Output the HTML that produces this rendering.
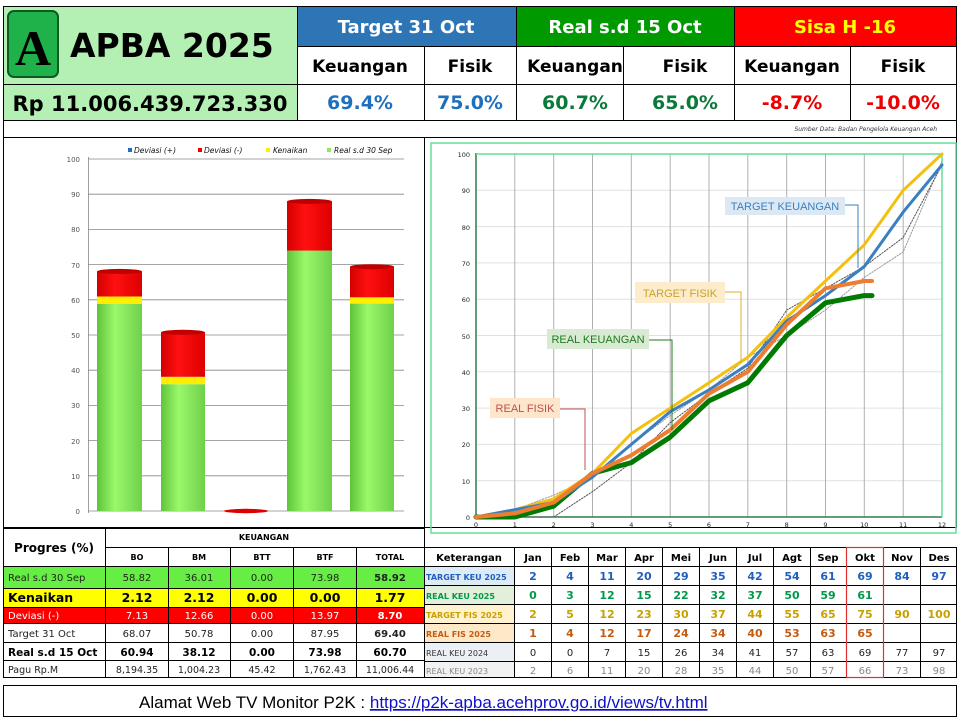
<!DOCTYPE html>
<html><head><meta charset="utf-8"><style>
body{margin:0;background:#fff;}
svg{display:block;font-family:"DejaVu Sans","Liberation Sans",sans-serif;}
</style></head><body>
<svg width="960" height="720" viewBox="0 0 960 720" xmlns="http://www.w3.org/2000/svg">
<rect width="960" height="720" fill="#fff"/>
<!-- HEADER -->
<rect x="3" y="6" width="294" height="114" fill="#b4f0b4"/>
<rect x="297" y="6" width="219" height="40" fill="#2e75b6"/>
<rect x="516" y="6" width="218" height="40" fill="#009a00"/>
<rect x="734" y="6" width="223" height="40" fill="#ff0000"/>
<g stroke="#000" stroke-width="1" fill="none">
<rect x="3.5" y="6.5" width="953" height="131"/>
<line x1="3" y1="84.5" x2="957" y2="84.5"/>
<line x1="3" y1="120.5" x2="957" y2="120.5"/>
<line x1="297" y1="46.5" x2="957" y2="46.5"/>
<line x1="297.5" y1="6" x2="297.5" y2="120"/>
<line x1="424.5" y1="46" x2="424.5" y2="120"/>
<line x1="516.5" y1="6" x2="516.5" y2="120"/>
<line x1="623.5" y1="46" x2="623.5" y2="120"/>
<line x1="734.5" y1="6" x2="734.5" y2="120"/>
<line x1="850.5" y1="46" x2="850.5" y2="120"/>
</g>
<rect x="8" y="11" width="50" height="66" rx="6" fill="#1fb14a" stroke="#0d5a22" stroke-width="2"/>
<text x="33" y="65" text-anchor="middle" font-family="Liberation Serif,serif" font-size="50" font-weight="bold" fill="#000">A</text>
<text x="70" y="57" font-size="33" font-weight="bold" fill="#000">APBA 2025</text>
<text x="150" y="111" text-anchor="middle" font-size="21" font-weight="bold" fill="#000">Rp 11.006.439.723.330</text>
<g font-size="18" font-weight="bold" text-anchor="middle">
<text x="406" y="33" fill="#fff">Target 31 Oct</text>
<text x="625" y="33" fill="#fff">Real s.d 15 Oct</text>
<text x="845" y="33" fill="#ffff00">Sisa H -16</text>
</g>
<g font-size="17" font-weight="bold" text-anchor="middle" fill="#000">
<text x="360" y="72">Keuangan</text><text x="470" y="72">Fisik</text>
<text x="575" y="72">Keuangan</text><text x="685" y="72">Fisik</text>
<text x="792" y="72">Keuangan</text><text x="903" y="72">Fisik</text>
</g>
<g font-size="19" font-weight="bold" text-anchor="middle">
<text x="360" y="109" fill="#1f6fbf">69.4%</text><text x="470" y="109" fill="#1f6fbf">75.0%</text>
<text x="575" y="109" fill="#0a7a3a">60.7%</text><text x="685" y="109" fill="#0a7a3a">65.0%</text>
<text x="792" y="109" fill="#ee0000">-8.7%</text><text x="903" y="109" fill="#ee0000">-10.0%</text>
</g>
<text x="937" y="131" text-anchor="end" font-size="6" font-style="italic" fill="#333">Sumber Data: Badan Pengelola Keuangan Aceh</text>

<!-- PANELS -->
<g stroke="#000" fill="none">
<rect x="3.5" y="137.5" width="421" height="390"/>
<rect x="424.5" y="137.5" width="532" height="390"/>
</g>

<!-- BAR CHART -->
<g stroke="#888" stroke-width="0.8">
<line x1="88" y1="511" x2="404" y2="511"/><line x1="88" y1="475.8" x2="404" y2="475.8"/>
<line x1="88" y1="440.6" x2="404" y2="440.6"/><line x1="88" y1="405.4" x2="404" y2="405.4"/>
<line x1="88" y1="370.2" x2="404" y2="370.2"/><line x1="88" y1="335" x2="404" y2="335"/>
<line x1="88" y1="299.8" x2="404" y2="299.8"/><line x1="88" y1="264.6" x2="404" y2="264.6"/>
<line x1="88" y1="229.4" x2="404" y2="229.4"/><line x1="88" y1="194.2" x2="404" y2="194.2"/>
<line x1="88" y1="159" x2="404" y2="159"/><line x1="88.5" y1="157" x2="88.5" y2="513"/>
</g>
<g font-size="7" fill="#555" text-anchor="end">
<text x="80" y="514">0</text><text x="80" y="479">10</text><text x="80" y="444">20</text><text x="80" y="408">30</text>
<text x="80" y="373">40</text><text x="80" y="338">50</text><text x="80" y="303">60</text><text x="80" y="268">70</text>
<text x="80" y="232">80</text><text x="80" y="197">90</text><text x="80" y="162">100</text>
</g>
<defs>
<linearGradient id="gg" x1="0" x2="1"><stop offset="0" stop-color="#5fc43a"/><stop offset="0.4" stop-color="#9af86a"/><stop offset="1" stop-color="#6fd04a"/></linearGradient>
<linearGradient id="rg" x1="0" x2="1"><stop offset="0" stop-color="#d40000"/><stop offset="0.4" stop-color="#ff1010"/><stop offset="1" stop-color="#dd0000"/></linearGradient>
</defs>
<!-- BO -->
<rect x="97" y="304" width="45" height="207" fill="url(#gg)"/>
<rect x="97" y="296.5" width="45" height="7.5" fill="#ffee00"/>
<rect x="97" y="271.4" width="45" height="25.1" fill="url(#rg)"/>
<ellipse cx="119.5" cy="271.4" rx="22.5" ry="2.5" fill="#c00000"/>
<!-- BM -->
<rect x="161" y="384.2" width="44" height="126.8" fill="url(#gg)"/>
<rect x="161" y="376.8" width="44" height="7.4" fill="#ffee00"/>
<rect x="161" y="332.3" width="44" height="44.5" fill="url(#rg)"/>
<ellipse cx="183" cy="332.3" rx="22" ry="2.5" fill="#c00000"/>
<!-- BTT -->
<ellipse cx="246" cy="511" rx="22" ry="2.2" fill="#dd0000"/>
<!-- BTF -->
<rect x="287" y="250.6" width="45" height="260.4" fill="url(#gg)"/>
<rect x="287" y="201.4" width="45" height="49.2" fill="url(#rg)"/>
<ellipse cx="309.5" cy="201.4" rx="22.5" ry="2.5" fill="#c00000"/>
<!-- TOTAL -->
<rect x="350" y="303.6" width="44" height="207.4" fill="url(#gg)"/>
<rect x="350" y="297.3" width="44" height="6.3" fill="#ffee00"/>
<rect x="350" y="266.7" width="44" height="30.6" fill="url(#rg)"/>
<ellipse cx="372" cy="266.7" rx="22" ry="2.5" fill="#c00000"/>
<!-- legend -->
<g font-size="7.5" font-style="italic" fill="#111">
<rect x="128" y="148" width="4" height="4" fill="#1f6fbf"/><text x="134" y="153">Deviasi (+)</text>
<rect x="198" y="148" width="4" height="4" fill="#ee0000"/><text x="204" y="153">Deviasi  (-)</text>
<rect x="266" y="148" width="4" height="4" fill="#ffee00"/><text x="273" y="153">Kenaikan</text>
<rect x="327" y="148" width="4" height="4" fill="#8fe860"/><text x="334" y="153">Real s.d 30 Sep</text>
</g>

<!-- LINE CHART -->
<rect x="431" y="143" width="525" height="390" fill="none" stroke="#66dd99" stroke-width="1.5"/>
<g stroke="#e0e0e0" stroke-width="1">
<line x1="476" y1="480.7" x2="942" y2="480.7"/><line x1="476" y1="444.4" x2="942" y2="444.4"/>
<line x1="476" y1="408.1" x2="942" y2="408.1"/><line x1="476" y1="371.8" x2="942" y2="371.8"/>
<line x1="476" y1="335.5" x2="942" y2="335.5"/><line x1="476" y1="299.2" x2="942" y2="299.2"/>
<line x1="476" y1="262.9" x2="942" y2="262.9"/><line x1="476" y1="226.6" x2="942" y2="226.6"/>
<line x1="476" y1="190.3" x2="942" y2="190.3"/><line x1="476" y1="154" x2="942" y2="154"/>
</g>
<g stroke="#b0b0b0" stroke-width="1">
<line x1="514.8" y1="154" x2="514.8" y2="517"/><line x1="553.7" y1="154" x2="553.7" y2="517"/>
<line x1="592.5" y1="154" x2="592.5" y2="517"/><line x1="631.3" y1="154" x2="631.3" y2="517"/>
<line x1="670.2" y1="154" x2="670.2" y2="517"/><line x1="709" y1="154" x2="709" y2="517"/>
<line x1="747.8" y1="154" x2="747.8" y2="517"/><line x1="786.7" y1="154" x2="786.7" y2="517"/>
<line x1="825.5" y1="154" x2="825.5" y2="517"/><line x1="864.3" y1="154" x2="864.3" y2="517"/>
<line x1="903.2" y1="154" x2="903.2" y2="517"/>
</g>
<g stroke="#2e7d4a" stroke-width="1.5">
<line x1="476" y1="153" x2="476" y2="517"/><line x1="476" y1="517" x2="942" y2="517"/>
<line x1="942" y1="153" x2="942" y2="517" stroke="#66dd99"/>
<line x1="476" y1="154" x2="942" y2="154" stroke="#66dd99"/>
</g>
<g font-size="6.5" fill="#222" text-anchor="end">
<text x="470" y="520">0</text><text x="470" y="484">10</text><text x="470" y="447">20</text><text x="470" y="411">30</text>
<text x="470" y="375">40</text><text x="470" y="339">50</text><text x="470" y="302">60</text><text x="470" y="266">70</text>
<text x="470" y="230">80</text><text x="470" y="193">90</text><text x="470" y="157">100</text>
</g>
<g font-size="6.5" fill="#222" text-anchor="middle">
<text x="476" y="527">0</text><text x="514.8" y="527">1</text><text x="553.7" y="527">2</text><text x="592.5" y="527">3</text>
<text x="631.3" y="527">4</text><text x="670.2" y="527">5</text><text x="709" y="527">6</text><text x="747.8" y="527">7</text>
<text x="786.7" y="527">8</text><text x="825.5" y="527">9</text><text x="864.3" y="527">10</text><text x="903.2" y="527">11</text><text x="942" y="527">12</text>
</g>
<g fill="none" stroke-linejoin="round" stroke-linecap="round">
<polyline stroke="#999" stroke-width="1" stroke-dasharray="1.5,1.5" points="476,517 514.8,509.7 553.7,495.2 592.5,477.1 631.3,444.4 670.2,415.4 709,389.9 747.8,357.3 786.7,335.5 825.5,310.1 864.3,277.4 903.2,252 942,161.3"/>
<polyline stroke="#555" stroke-width="1" stroke-dasharray="1.5,1.5" points="476,517 514.8,517 553.7,517 592.5,491.6 631.3,462.6 670.2,422.6 709,393.6 747.8,368.2 786.7,310.1 825.5,288.3 864.3,266.5 903.2,237.5 942,164.9"/>
<polyline stroke="#007a00" stroke-width="5" points="476,517 514.8,517 553.7,506.1 592.5,473.4 631.3,462.6 670.2,437.1 709,400.8 747.8,382.7 786.7,335.5 825.5,302.8 864.3,295.6 872,295.6"/>
<polyline stroke="#f4c010" stroke-width="3" points="476,517 514.8,509.7 553.7,498.9 592.5,473.4 631.3,433.5 670.2,408.1 709,382.7 747.8,357.3 786.7,317.4 825.5,281 864.3,244.8 903.2,190.3 942,154"/>
<polyline stroke="#3a7fc0" stroke-width="3" points="476,517 514.8,509.7 553.7,502.5 592.5,477.1 631.3,444.4 670.2,411.7 709,389.9 747.8,364.5 786.7,321 825.5,295.6 864.3,266.5 903.2,212.1 942,164.9"/>
<polyline stroke="#ed7d31" stroke-width="4" points="476,517 514.8,513.4 553.7,502.5 592.5,473.4 631.3,455.3 670.2,429.9 709,393.6 747.8,371.8 786.7,324.6 825.5,288.3 864.3,281 872,281"/>
</g>
<!-- callouts -->
<g font-size="11" font-family="Liberation Sans,sans-serif">
<rect x="725" y="197" width="120" height="18" fill="#dce9f5"/>
<text x="785" y="210" text-anchor="middle" fill="#3a7fbf">TARGET KEUANGAN</text>
<polyline points="845,205 858,205 858,268" fill="none" stroke="#3a7fbf"/>
<rect x="635" y="282" width="90" height="21" fill="#fdeccc"/>
<text x="680" y="297" text-anchor="middle" fill="#c9a227">TARGET FISIK</text>
<polyline points="725,292 741,292 741,363" fill="none" stroke="#d9b030"/>
<rect x="547" y="329" width="102" height="20" fill="#d9ead3"/>
<text x="598" y="343" text-anchor="middle" fill="#1e7b1e">REAL KEUANGAN</text>
<polyline points="649,340 672,340 672,430" fill="none" stroke="#1e7b1e"/>
<rect x="490" y="398" width="70" height="20" fill="#fde6cc"/>
<text x="525" y="412" text-anchor="middle" fill="#c0504d">REAL FISIK</text>
<polyline points="560,409 585,409 585,470" fill="none" stroke="#c0504d"/>
</g>

<!-- LEFT TABLE -->
<rect x="3" y="567" width="421" height="21" fill="#66ee44"/>
<rect x="3" y="588" width="421" height="19" fill="#ffff00"/>
<rect x="3" y="607" width="421" height="16" fill="#ff0000"/>
<g stroke="#000" stroke-width="1" fill="none">
<rect x="3.5" y="528.5" width="421" height="149"/>
<line x1="105" y1="547.5" x2="424" y2="547.5"/>
<line x1="3" y1="566.5" x2="424" y2="566.5"/>
<line x1="3" y1="588.5" x2="424" y2="588.5"/>
<line x1="3" y1="607.5" x2="424" y2="607.5"/>
<line x1="3" y1="623.5" x2="424" y2="623.5"/>
<line x1="3" y1="642.5" x2="424" y2="642.5"/>
<line x1="3" y1="660.5" x2="424" y2="660.5"/>
<line x1="105.5" y1="528" x2="105.5" y2="678"/>
<line x1="168.5" y1="547" x2="168.5" y2="678"/>
<line x1="230.5" y1="547" x2="230.5" y2="678"/>
<line x1="293.5" y1="547" x2="293.5" y2="678"/>
<line x1="356.5" y1="547" x2="356.5" y2="678"/>
</g>
<g font-size="8" font-weight="bold" text-anchor="middle" fill="#000">
<text x="264" y="540">KEUANGAN</text>
<text x="137" y="560">BO</text><text x="199" y="560">BM</text><text x="262" y="560">BTT</text><text x="325" y="560">BTF</text><text x="390" y="560">TOTAL</text>
</g>
<text x="54" y="552" text-anchor="middle" font-size="12" font-weight="bold">Progres (%)</text>
<g font-size="10" text-anchor="middle" fill="#222">
<text x="8" y="581" text-anchor="start">Real s.d 30 Sep</text>
<text x="137" y="581">58.82</text><text x="199" y="581">36.01</text><text x="262" y="581">0.00</text><text x="325" y="581">73.98</text><text x="390" y="581" font-weight="bold">58.92</text>
</g>
<g font-size="12.5" font-weight="bold" text-anchor="middle" fill="#000">
<text x="8" y="602" text-anchor="start">Kenaikan</text>
<text x="137" y="602">2.12</text><text x="199" y="602">2.12</text><text x="262" y="602">0.00</text><text x="325" y="602">0.00</text><text x="390" y="602">1.77</text>
</g>
<g font-size="10" text-anchor="middle" fill="#fff">
<text x="8" y="619" text-anchor="start">Deviasi  (-)</text>
<text x="137" y="619">7.13</text><text x="199" y="619">12.66</text><text x="262" y="619">0.00</text><text x="325" y="619">13.97</text><text x="390" y="619" font-weight="bold">8.70</text>
</g>
<g font-size="10" text-anchor="middle" fill="#222">
<text x="8" y="637" text-anchor="start">Target 31 Oct</text>
<text x="137" y="637">68.07</text><text x="199" y="637">50.78</text><text x="262" y="637">0.00</text><text x="325" y="637">87.95</text><text x="390" y="637" font-weight="bold">69.40</text>
</g>
<g font-size="10.5" font-weight="bold" text-anchor="middle" fill="#000">
<text x="8" y="656" text-anchor="start">Real s.d 15 Oct</text>
<text x="137" y="656">60.94</text><text x="199" y="656">38.12</text><text x="262" y="656">0.00</text><text x="325" y="656">73.98</text><text x="390" y="656">60.70</text>
</g>
<g font-size="9.5" text-anchor="middle" fill="#222">
<text x="8" y="673" text-anchor="start">Pagu Rp.M</text>
<text x="137" y="673">8,194.35</text><text x="199" y="673">1,004.23</text><text x="262" y="673">45.42</text><text x="325" y="673">1,762.43</text><text x="390" y="673">11,006.44</text>
</g>

<!-- RIGHT TABLE -->
<rect x="425" y="566" width="89" height="19" fill="#ddebf7"/>
<rect x="425" y="585" width="89" height="19" fill="#e2efda"/>
<rect x="425" y="604" width="89" height="19" fill="#fff2cc"/>
<rect x="425" y="623" width="89" height="19" fill="#fde9c8"/>
<rect x="425" y="642" width="89" height="19" fill="#eceff4"/>
<rect x="425" y="661" width="89" height="17" fill="#f2f2f2"/>
<g stroke="#000" stroke-width="1" fill="none">
<rect x="424.5" y="547.5" width="532" height="130"/>
<line x1="424" y1="566.5" x2="957" y2="566.5"/><line x1="424" y1="585.5" x2="957" y2="585.5"/>
<line x1="424" y1="604.5" x2="957" y2="604.5"/><line x1="424" y1="623.5" x2="957" y2="623.5"/>
<line x1="424" y1="642.5" x2="957" y2="642.5"/><line x1="424" y1="661.5" x2="957" y2="661.5"/>
<line x1="514.5" y1="547" x2="514.5" y2="678"/><line x1="551.5" y1="547" x2="551.5" y2="678"/>
<line x1="588.5" y1="547" x2="588.5" y2="678"/><line x1="625.5" y1="547" x2="625.5" y2="678"/>
<line x1="662.5" y1="547" x2="662.5" y2="678"/><line x1="699.5" y1="547" x2="699.5" y2="678"/>
<line x1="736.5" y1="547" x2="736.5" y2="678"/><line x1="773.5" y1="547" x2="773.5" y2="678"/>
<line x1="810.5" y1="547" x2="810.5" y2="678"/><line x1="846.5" y1="547" x2="846.5" y2="678"/>
<line x1="883.5" y1="547" x2="883.5" y2="678"/><line x1="920.5" y1="547" x2="920.5" y2="678"/>
</g>
<rect x="846.5" y="547.5" width="37" height="130" fill="none" stroke="#e03030" stroke-width="1.2"/>
<g font-size="10" font-weight="bold" text-anchor="middle" fill="#000">
<text x="469" y="561">Keterangan</text>
<text x="533" y="561">Jan</text><text x="570" y="561">Feb</text><text x="607" y="561">Mar</text><text x="644" y="561">Apr</text>
<text x="681" y="561">Mei</text><text x="718" y="561">Jun</text><text x="755" y="561">Jul</text><text x="792" y="561">Agt</text>
<text x="828" y="561">Sep</text><text x="865" y="561">Okt</text><text x="902" y="561">Nov</text><text x="939" y="561">Des</text>
</g>
<g font-size="8" font-weight="bold">
<text x="426" y="580" fill="#1f5fbf">TARGET KEU 2025</text>
<text x="426" y="599" fill="#00994a">REAL KEU 2025</text>
<text x="426" y="618" fill="#c9a000">TARGET FIS 2025</text>
<text x="426" y="637" fill="#c55a11">REAL FIS 2025</text>
<text x="426" y="656" fill="#333" font-weight="normal">REAL KEU 2024</text>
<text x="426" y="674" fill="#888" font-weight="normal">REAL KEU 2023</text>
</g>
<g font-size="11" font-weight="bold" text-anchor="middle" fill="#1f5fbf">
<text x="533" y="580">2</text><text x="570" y="580">4</text><text x="607" y="580">11</text><text x="644" y="580">20</text><text x="681" y="580">29</text><text x="718" y="580">35</text><text x="755" y="580">42</text><text x="792" y="580">54</text><text x="828" y="580">61</text><text x="865" y="580">69</text><text x="902" y="580">84</text><text x="939" y="580">97</text>
</g>
<g font-size="11" font-weight="bold" text-anchor="middle" fill="#00994a">
<text x="533" y="599">0</text><text x="570" y="599">3</text><text x="607" y="599">12</text><text x="644" y="599">15</text><text x="681" y="599">22</text><text x="718" y="599">32</text><text x="755" y="599">37</text><text x="792" y="599">50</text><text x="828" y="599">59</text><text x="865" y="599">61</text>
</g>
<g font-size="11" font-weight="bold" text-anchor="middle" fill="#c9a000">
<text x="533" y="618">2</text><text x="570" y="618">5</text><text x="607" y="618">12</text><text x="644" y="618">23</text><text x="681" y="618">30</text><text x="718" y="618">37</text><text x="755" y="618">44</text><text x="792" y="618">55</text><text x="828" y="618">65</text><text x="865" y="618">75</text><text x="902" y="618">90</text><text x="939" y="618">100</text>
</g>
<g font-size="11" font-weight="bold" text-anchor="middle" fill="#c55a11">
<text x="533" y="637">1</text><text x="570" y="637">4</text><text x="607" y="637">12</text><text x="644" y="637">17</text><text x="681" y="637">24</text><text x="718" y="637">34</text><text x="755" y="637">40</text><text x="792" y="637">53</text><text x="828" y="637">63</text><text x="865" y="637">65</text>
</g>
<g font-size="10" text-anchor="middle" fill="#222">
<text x="533" y="656">0</text><text x="570" y="656">0</text><text x="607" y="656">7</text><text x="644" y="656">15</text><text x="681" y="656">26</text><text x="718" y="656">34</text><text x="755" y="656">41</text><text x="792" y="656">57</text><text x="828" y="656">63</text><text x="865" y="656">69</text><text x="902" y="656">77</text><text x="939" y="656">97</text>
</g>
<g font-size="10" text-anchor="middle" fill="#888">
<text x="533" y="674">2</text><text x="570" y="674">6</text><text x="607" y="674">11</text><text x="644" y="674">20</text><text x="681" y="674">28</text><text x="718" y="674">35</text><text x="755" y="674">44</text><text x="792" y="674">50</text><text x="828" y="674">57</text><text x="865" y="674">66</text><text x="902" y="674">73</text><text x="939" y="674">98</text>
</g>

<!-- FOOTER -->
<rect x="3.5" y="685.5" width="953" height="31" fill="#fff" stroke="#000"/>
<text x="139" y="708" font-size="17" font-family="Liberation Sans,sans-serif" fill="#000">Alamat Web TV Monitor P2K : <tspan fill="#1010cc" text-decoration="underline">https://p2k-apba.acehprov.go.id/views/tv.html</tspan></text>
</svg>
</body></html>
